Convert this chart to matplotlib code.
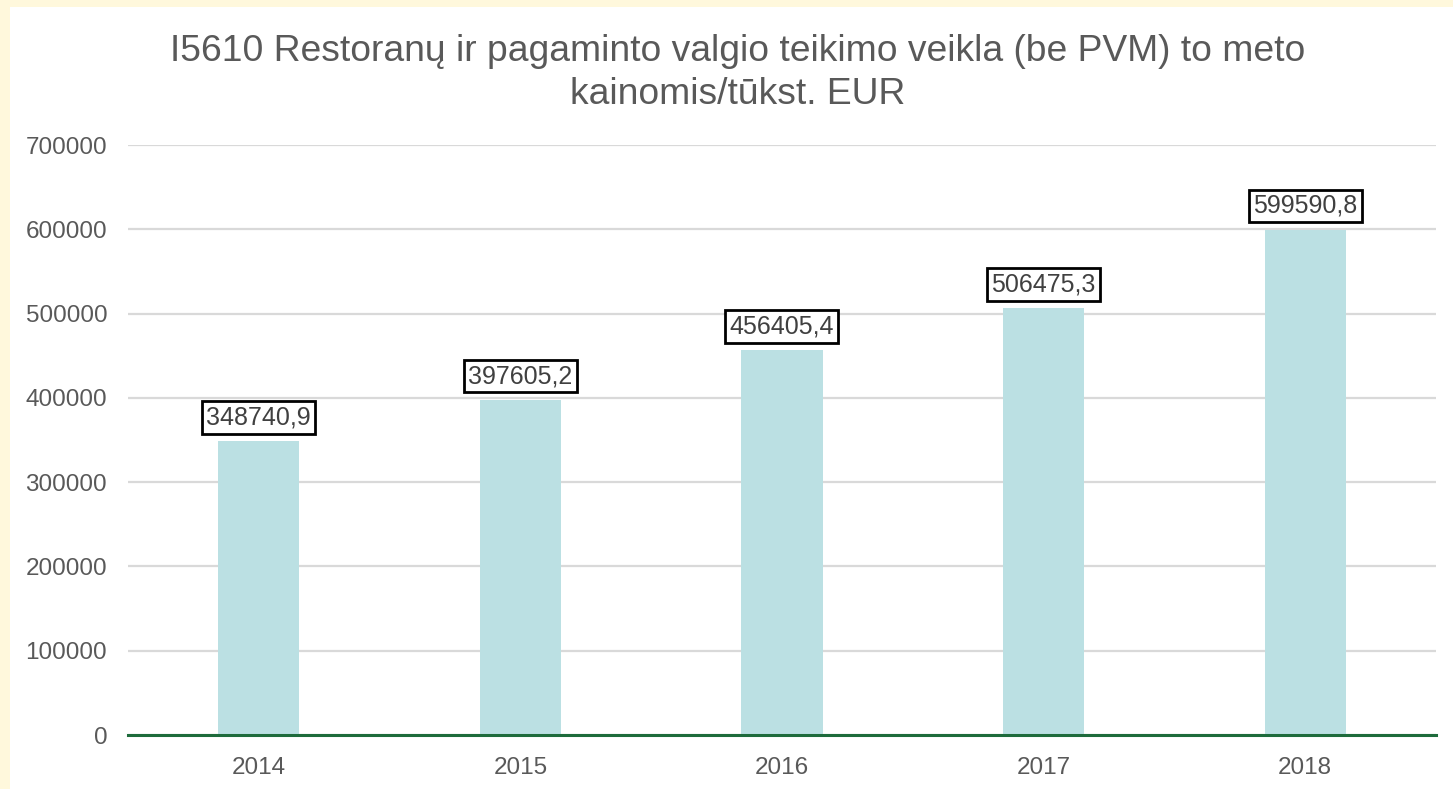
import matplotlib.pyplot as plt
from matplotlib.patches import Rectangle

# data
years = ['2014', '2015', '2016', '2017', '2018']
values = [348740.9, 397605.2, 456405.4, 506475.3, 599590.8]
value_labels = ['348740,9', '397605,2', '456405,4', '506475,3', '599590,8']
y_ticks = [0, 100000, 200000, 300000, 400000, 500000, 600000, 700000]
title = 'I5610 Restoranų ir pagaminto valgio teikimo veikla (be PVM) to meto\nkainomis/tūkst. EUR'

plt.rcParams['font.family'] = ['Liberation Sans', 'DejaVu Sans']
text_col = '#595959'

fig = plt.figure(figsize=(14.53, 7.89), dpi=100, facecolor='#FFF8DC')
# white chart area inside the cream frame
fig.patches.append(Rectangle((10 / 1453, 0), 1, 1 - 7 / 789, transform=fig.transFigure,
                             facecolor='white', edgecolor='none', zorder=-5))

ax = fig.add_axes([128 / 1453, 1 - 735 / 789, (1436 - 128) / 1453, (735 - 145) / 789])
ax.set_facecolor('none')

x = range(len(years))
ax.bar(x, values, width=0.31, color='#BBE0E3', zorder=2)

for xi, v, lab in zip(x, values, value_labels):
    ax.annotate(lab, (xi, v), xytext=(0, 8.5), textcoords='offset points',
                ha='center', va='bottom', fontsize=18, color='#404040', zorder=4,
                bbox=dict(boxstyle='square,pad=0.17', facecolor='white',
                          edgecolor='black', linewidth=2))

ax.set_xlim(-0.5, len(years) - 0.5)
ax.set_ylim(0, 700000)
ax.set_yticks(y_ticks)
ax.set_yticklabels([str(t) for t in y_ticks])
ax.set_xticks(list(x))
ax.set_xticklabels(years)
ax.tick_params(axis='y', length=0, pad=15, labelsize=17.5, labelcolor=text_col)
ax.tick_params(axis='x', length=0, pad=15.5, labelsize=17.5, labelcolor=text_col)

ax.grid(axis='y', color='#D9D9D9', linewidth=1.6, zorder=1)
ax.set_axisbelow(True)
for s in ['top', 'right', 'left']:
    ax.spines[s].set_visible(False)
ax.spines['bottom'].set_color('#1E6B3C')
ax.spines['bottom'].set_linewidth(2.2)
ax.spines['bottom'].set_zorder(3)

fig.text(738 / 1453, 1 - 73 / 789, title, ha='center', va='center',
         fontsize=26.8, color=text_col, linespacing=1.3)

fig.savefig('out.png', dpi=100, facecolor=fig.get_facecolor())
